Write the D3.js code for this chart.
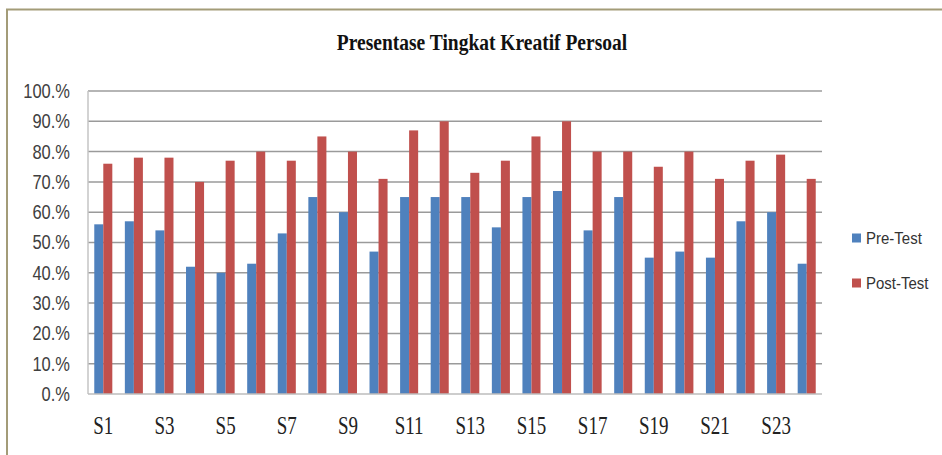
<!DOCTYPE html>
<html>
<head>
<meta charset="utf-8">
<script src="https://cdn.jsdelivr.net/npm/d3@7"></script>
<style>
  html, body { margin: 0; padding: 0; background: #fff; }
  svg { display: block; }
</style>
</head>
<body>
<svg id="chart" width="942" height="455"></svg>
<script>
const categories = ["S1","S2","S3","S4","S5","S6","S7","S8","S9","S10","S11","S12",
                    "S13","S14","S15","S16","S17","S18","S19","S20","S21","S22","S23","S24"];
const preTest  = [0.56,0.57,0.54,0.42,0.40,0.43,0.53,0.65,0.60,0.47,0.65,0.65,
                  0.65,0.55,0.65,0.67,0.54,0.65,0.45,0.47,0.45,0.57,0.60,0.43];
const postTest = [0.76,0.78,0.78,0.70,0.77,0.80,0.77,0.85,0.80,0.71,0.87,0.90,
                  0.73,0.77,0.85,0.90,0.80,0.80,0.75,0.80,0.71,0.77,0.79,0.71];
const seriesNames = ["Pre-Test","Post-Test"];
const seriesColors = ["#4f81bd","#c0504d"];
const yTicks = [0,0.1,0.2,0.3,0.4,0.5,0.6,0.7,0.8,0.9,1.0];
const xLabelCats = ["S1","S3","S5","S7","S9","S11","S13","S15","S17","S19","S21","S23"];
const title = "Presentase Tingkat Kreatif  Persoal";

const svg = d3.select("#chart");
const plot = {left: 88, right: 822, top: 91, bottom: 394};

// outer frame
svg.append("path")
  .attr("d", `M7,455 L7,9.5 L942,9.5`)
  .attr("fill","none").attr("stroke","#a39c78").attr("stroke-width",2);

const x0 = d3.scaleBand().domain(categories).range([plot.left, plot.right])
  .paddingInner(0.41).paddingOuter(0.205);
const x1 = d3.scaleBand().domain(seriesNames).range([0, x0.bandwidth()]);
const y = d3.scaleLinear().domain([0,1]).range([plot.bottom, plot.top]);

// gridlines
svg.append("g").selectAll("line").data(yTicks.filter(d => d > 0)).join("line")
  .attr("x1", plot.left).attr("x2", plot.right)
  .attr("y1", d => y(d)).attr("y2", d => y(d))
  .attr("stroke", d => d === 1 ? "#b5b5b5" : "#9a9a9a")
  .attr("stroke-width", d => d === 1 ? 2 : 1.5);

// left axis line
svg.append("line").attr("x1", plot.left).attr("x2", plot.left)
  .attr("y1", y(1)).attr("y2", y(0)).attr("stroke","#c4c4c4").attr("stroke-width",1.5);

// y labels via axis
const yAxis = d3.axisLeft(y).tickValues(yTicks).tickSize(0).tickPadding(0)
  .tickFormat(d => Math.round(d*100) + ".%");
const yg = svg.append("g").attr("transform", `translate(70,0)`).call(yAxis);
yg.select(".domain").remove();
yg.selectAll("text")
  .attr("font-family","'Liberation Sans', Arial, sans-serif")
  .attr("font-size", 16.5).attr("fill","#404040").attr("dy", null).attr("x", 0)
  .attr("dominant-baseline","central")
  .attr("transform", "scale(1,1.18)");

// bars
const groups = svg.append("g").selectAll("g").data(categories).join("g")
  .attr("transform", d => `translate(${x0(d)},0)`);
groups.selectAll("rect")
  .data((d,i) => [{s:0, v:preTest[i]}, {s:1, v:postTest[i]}])
  .join("rect")
  .attr("x", d => x1(seriesNames[d.s]))
  .attr("width", x1.bandwidth())
  .attr("y", d => y(d.v))
  .attr("height", d => y(0) - y(d.v))
  .attr("fill", d => seriesColors[d.s]);

// bottom axis line
svg.append("line").attr("x1", plot.left).attr("x2", plot.right)
  .attr("y1", y(0)).attr("y2", y(0)).attr("stroke","#bdbdbd").attr("stroke-width",1.5);

// x labels
const xAxis = d3.axisBottom(x0).tickValues(xLabelCats).tickSize(0).tickPadding(0);
const xg = svg.append("g").attr("transform", `translate(0,426)`).call(xAxis);
xg.select(".domain").remove();
xg.selectAll("text")
  .attr("font-family","'Liberation Serif', 'Times New Roman', serif")
  .attr("font-size", 19).attr("fill","#222").attr("dy", null).attr("y", 0)
  .attr("dominant-baseline","central")
  .attr("transform","scale(1,1.3)");

// title
svg.append("text")
  .attr("x", 482).attr("y", 0)
  .attr("text-anchor","middle")
  .attr("font-family","'Liberation Serif', 'Times New Roman', serif")
  .attr("font-weight","bold").attr("font-size", 19.5).attr("fill","#111")
  .attr("transform","translate(0,50) scale(1,1.15)")
  .text(title);

// legend
const legend = svg.append("g").selectAll("g").data(seriesNames).join("g")
  .attr("transform", (d,i) => `translate(852,${238 + i*45})`);
legend.append("rect").attr("x",0).attr("y",-4.5).attr("width",9).attr("height",9)
  .attr("fill", (d,i) => seriesColors[i]);
legend.append("text").attr("x", 14).attr("y", 0)
  .attr("dominant-baseline","central")
  .attr("font-family","'Liberation Sans', Arial, sans-serif")
  .attr("font-size", 15).attr("fill","#333")
  .attr("transform","scale(1,1.15)")
  .text(d => d);
</script>
</body>
</html>
